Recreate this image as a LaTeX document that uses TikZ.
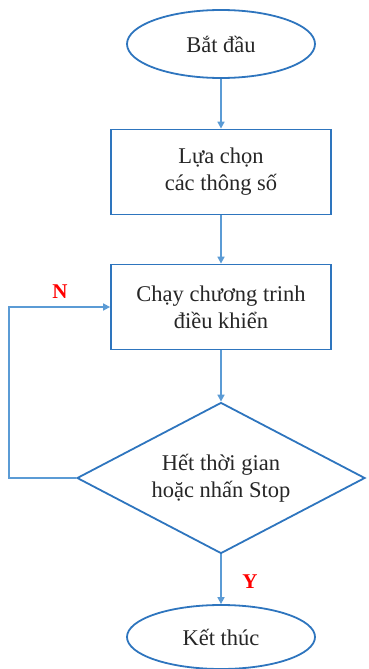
\documentclass[tikz,border=0pt]{standalone}
\usepackage{fontspec}
\setmainfont{Liberation Serif}
\usetikzlibrary{shapes.geometric,arrows.meta}
\definecolor{bord}{RGB}{46,117,190}
\definecolor{arr}{RGB}{91,155,213}
\tikzset{
  txt/.style={font=\fontsize{22.5}{27}\selectfont, align=center, text=black!85},
  term/.style={txt, ellipse, draw=bord, line width=1.8pt, minimum width=188pt, minimum height=68pt, inner sep=0pt},
  proc/.style={txt, rectangle, draw=bord, line width=1.8pt, minimum width=220pt, minimum height=85pt, inner sep=0pt},
  dec/.style={txt, diamond, shape aspect=1.9, draw=bord, line width=1.8pt, minimum width=288pt, minimum height=151pt, inner sep=0pt},
  link/.style={draw=arr, line width=1.6pt, -{Triangle[length=7pt,width=7pt]}},
  lab/.style={text=red, font=\fontsize{21}{24}\selectfont\bfseries}
}
\begin{document}
\begin{tikzpicture}[x=1pt,y=-1pt]
\useasboundingbox (0,0) rectangle (368,669);
\node[term] (start) at (221,44) {Bắt đầu};
\node[proc] (sel) at (221,172) {Lựa chọn\\các thông số};
\node[proc] (run) at (221,307) {Chạy chương trinh\\điều khiển};
\node[dec] (chk) at (221,478) {Hết thời gian\\hoặc nhấn Stop};
\node[term, minimum height=64pt] (end) at (221,637) {Kết thúc};
\coordinate (loop) at (9,478);
\draw[link] (start) -- (sel);
\draw[link] (sel) -- (run);
\draw[link] (run) -- (chk);
\draw[link] (chk) -- (end);
\draw[link] (chk.west) -- (loop) |- (run.west);
\node[lab] (n) at (60,292) {N};
\node[lab] (y) at (250,582) {Y};
\end{tikzpicture}
\end{document}
